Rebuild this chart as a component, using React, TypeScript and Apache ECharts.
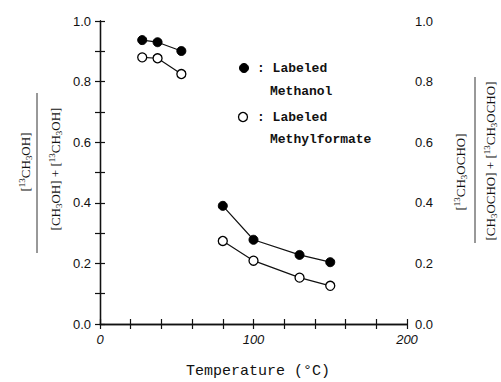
import React, { useEffect, useRef } from "react";
import * as echarts from "echarts";

const tempLow = [27.5, 37.5, 53];
const tempHigh = [80, 100, 130, 150];
const methanolLow = [0.937, 0.93, 0.901];
const methanolHigh = [0.39, 0.278, 0.228, 0.204];
const formateLow = [0.88, 0.877, 0.825];
const formateHigh = [0.274, 0.209, 0.153, 0.126];
const xTickLabels = ["0", "100", "200"];
const yTickLabels = ["0.0", "0.2", "0.4", "0.6", "0.8", "1.0"];

const pair = (xs: number[], ys: number[]) => xs.map((x, i) => [x, ys[i]]);

const serif = "'Liberation Serif', 'Times New Roman', serif";
const mono = "'Liberation Mono', 'Courier New', monospace";
const sans = "'Liberation Sans', Arial, sans-serif";

const richStyles = {
  n: { fontFamily: serif, fontSize: 13, fill: "#111" },
  sup: { fontFamily: serif, fontSize: 9, fill: "#111", verticalAlign: "top", padding: [0, 0, 7, 0] },
  sub: { fontFamily: serif, fontSize: 9, fill: "#111", verticalAlign: "bottom", padding: [6, 0, 0, 0] },
};

function fractionGroup(cx: number, cy: number, num: string, den: string, numOff: number, denOff: number, numShift: number, denShift: number, halfLen: number) {
  return {
    type: "group",
    x: cx,
    y: cy,
    rotation: Math.PI / 2,
    children: [
      {
        type: "text",
        x: numShift,
        y: numOff,
        style: { text: num, rich: richStyles, align: "center", verticalAlign: "middle", font: `13px ${serif}`, fill: "#111" },
      },
      {
        type: "line",
        shape: { x1: -halfLen, y1: 0, x2: halfLen, y2: 0 },
        style: { stroke: "#333", lineWidth: 1 },
      },
      {
        type: "text",
        x: denShift,
        y: denOff,
        style: { text: den, rich: richStyles, align: "center", verticalAlign: "middle", font: `13px ${serif}`, fill: "#111" },
      },
    ],
  };
}

export default function App() {
  const ref = useRef<HTMLDivElement>(null);
  useEffect(() => {
    if (!ref.current) return;
    const chart = echarts.init(ref.current, null, { renderer: "svg" });
    const axisCommon = {
      axisLine: { show: true, lineStyle: { color: "#111", width: 1.3 } },
      axisTick: { show: true, inside: true, length: 5, lineStyle: { color: "#111", width: 1.2 } },
      splitLine: { show: false },
    };
    const yLabelFmt = (v: number) => {
      const idx = Math.round(v * 10);
      return idx % 2 === 0 ? yTickLabels[idx / 2] : "";
    };
    const xLabelFmt = (v: number) => {
      const idx = Math.round(v);
      return idx % 100 === 0 ? xTickLabels[idx / 100] : "";
    };
    const lineStyle = { color: "#111", width: 1.2 };
    const filled = { color: "#000", borderColor: "#000", borderWidth: 1 };
    const open = { color: "#fff", borderColor: "#000", borderWidth: 1.3 };
    const mk = (data: number[][], item: any) => ({
      type: "line",
      data,
      symbol: "circle",
      symbolSize: 9,
      lineStyle,
      itemStyle: item,
      xAxisIndex: 0,
      yAxisIndex: 0,
      z: 5,
    });
    chart.setOption({
      animation: false,
      backgroundColor: "#fff",
      grid: { left: 100, right: 94, top: 21, bottom: 58 },
      xAxis: [
        {
          type: "value",
          min: 0,
          max: 200,
          interval: 20,
          position: "bottom",
          ...axisCommon,
          axisLabel: { formatter: xLabelFmt, margin: 9, color: "#111", fontSize: 13, fontFamily: sans, fontStyle: "italic" },
        },
        {
          type: "value",
          min: 0,
          max: 200,
          interval: 20,
          position: "top",
          ...axisCommon,
          axisLabel: { show: false },
        },
      ],
      yAxis: [
        {
          type: "value",
          min: 0,
          max: 1,
          interval: 0.1,
          position: "left",
          ...axisCommon,
          axisLabel: { formatter: yLabelFmt, margin: 9, color: "#111", fontSize: 13, fontFamily: sans },
        },
        {
          type: "value",
          min: 0,
          max: 1,
          interval: 0.1,
          position: "right",
          ...axisCommon,
          axisLabel: { formatter: yLabelFmt, margin: 8, color: "#111", fontSize: 13, fontFamily: sans },
        },
      ],
      series: [
        mk(pair(tempLow, methanolLow), filled),
        mk(pair(tempHigh, methanolHigh), filled),
        mk(pair(tempLow, formateLow), open),
        mk(pair(tempHigh, formateHigh), open),
      ],
      graphic: [
        { type: "circle", shape: { cx: 244, cy: 68, r: 4.5 }, style: { fill: "#000", stroke: "#000" } },
        { type: "text", x: 257, y: 68, style: { text: ": Labeled", font: `bold 13px ${mono}`, fill: "#111", verticalAlign: "middle" } },
        { type: "text", x: 270, y: 91, style: { text: "Methanol", font: `bold 13px ${mono}`, fill: "#111", verticalAlign: "middle" } },
        { type: "circle", shape: { cx: 243, cy: 117, r: 4.5 }, style: { fill: "#fff", stroke: "#000", lineWidth: 1.3 } },
        { type: "text", x: 257, y: 117, style: { text: ": Labeled", font: `bold 13px ${mono}`, fill: "#111", verticalAlign: "middle" } },
        { type: "text", x: 270, y: 139, style: { text: "Methylformate", font: `bold 13px ${mono}`, fill: "#111", verticalAlign: "middle" } },
        { type: "text", x: 258, y: 364, style: { text: "Temperature (°C)", font: `15px ${mono}`, fill: "#111", align: "center", verticalAlign: "top" } },
        fractionGroup(37, 173, "{n|[}{sup|13}{n|CH}{sub|3}{n|OH]}", "{n|[CH}{sub|3}{n|OH] + [}{sup|13}{n|CH}{sub|3}{n|OH]}", -12, 18, 11, 4, 80),
        fractionGroup(475, 160, "{n|[}{sup|13}{n|CH}{sub|3}{n|OCHO]}", "{n|[CH}{sub|3}{n|OCHO] + [}{sup|13}{n|CH}{sub|3}{n|OCHO]}", -15, 15, -12, -1, 83),
      ],
    });
    return () => chart.dispose();
  }, []);
  return <div ref={ref} style={{ position: "absolute", left: 0, top: 0, width: 501, height: 382 }} />;
}
